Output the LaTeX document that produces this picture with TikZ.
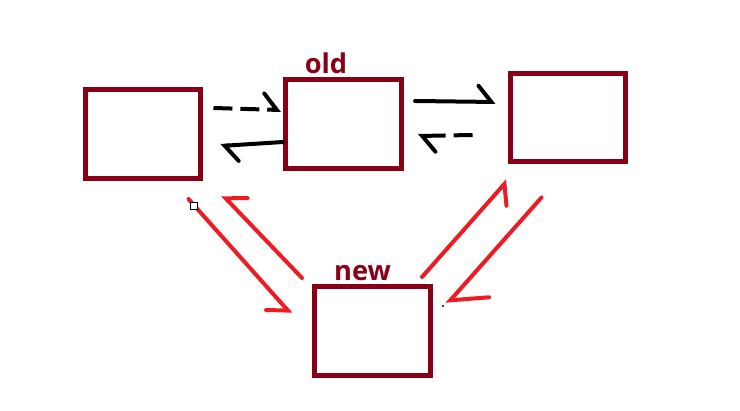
\documentclass[tikz,border=0pt]{standalone}
\usepackage{fontspec}
\newfontfamily\tagfont{Open Sans}
\usetikzlibrary{arrows.meta,calc,positioning}
\definecolor{boxred}{RGB}{136,0,21}
\definecolor{penred}{RGB}{237,28,36}

\begin{document}
\begin{tikzpicture}[x=0.02cm,y=-0.02cm,
  box/.style={draw=boxred,line width=0.1cm,minimum width=2.32cm,minimum height=1.78cm,inner sep=0pt,outer sep=0pt},
  tag/.style={text=boxred,font=\tagfont\bfseries\fontsize{15.5}{16}\selectfont,inner sep=0pt,anchor=base},
  ink/.style={black,line width=0.08cm,line cap=round,-{Straight Barb[harpoon,length=0.26cm,width=0.64cm,line cap=round]}},
  inkdash/.style={ink,line cap=butt,dash pattern=on 10.8pt off 4.5pt},
  penl/.style={penred,line width=0.08cm,line cap=round,-{Straight Barb[harpoon,length=0.3cm,width=0.64cm,line cap=round]}},
  penr/.style={penred,line width=0.08cm,line cap=round,-{Straight Barb[harpoon,swap,length=0.3cm,width=0.64cm,line cap=round]}}]
\useasboundingbox (0,0) rectangle (740,411);
\fill[white] (0,0) rectangle (740,411);
% the four boxes
\node[box] (A) at (143,134) {};
\node[box] (B) at (343.5,124) {};
\node[box] (C) at (568,117.5) {};
\node[box] (D) at (372.5,331) {};
\node[tag] (oldtag) at ($(B.north)+(-17.5,-6.5)$) {old};
\node[tag] (newtag) at ($(D.north)+(-10,-6.5)$) {new};
% black arrows along the top row
\draw[inkdash] ($(A.east)+(12.5,-26)$) -- ($(B.west)+(-4.5,-14)$);
\draw[ink] ($(B.west)+(-2.5,18)$) -- ($(A.east)+(19.5,12)$);
\draw[ink] ($(B.east)+(13.5,-23)$) -- ($(C.west)+(-14.5,-15.5)$);
\draw[inkdash] ($(C.west)+(-37.5,17.5)$) -- ($(B.east)+(16.5,12)$);
% red arrows to and from the new box
\draw[penr] ($(A.south east)+(-12.5,20.5)$) -- ($(D.north west)+(-23.5,27.5)$);
\draw[penr] ($(D.north west)+(-12.5,-8.5)$) -- ($(A.south east)+(21.5,16.5)$);
\draw[penr] ($(D.north east)+(-8.5,-9.5)$) -- ($(C.south west)+(-2.5,18.5)$);
\draw[penl,-{Straight Barb[harpoon,length=0.56cm,width=1.08cm,line cap=round]}] ($(C.south west)+(31.5,35.5)$) -- ($(D.north east)+(16.5,17.5)$);
% stray marks
\draw[black,fill=white,line width=0.4pt] (190,202) rectangle (197,209);
\fill[black] (443,306) circle (1.2);
\end{tikzpicture}
\end{document}
